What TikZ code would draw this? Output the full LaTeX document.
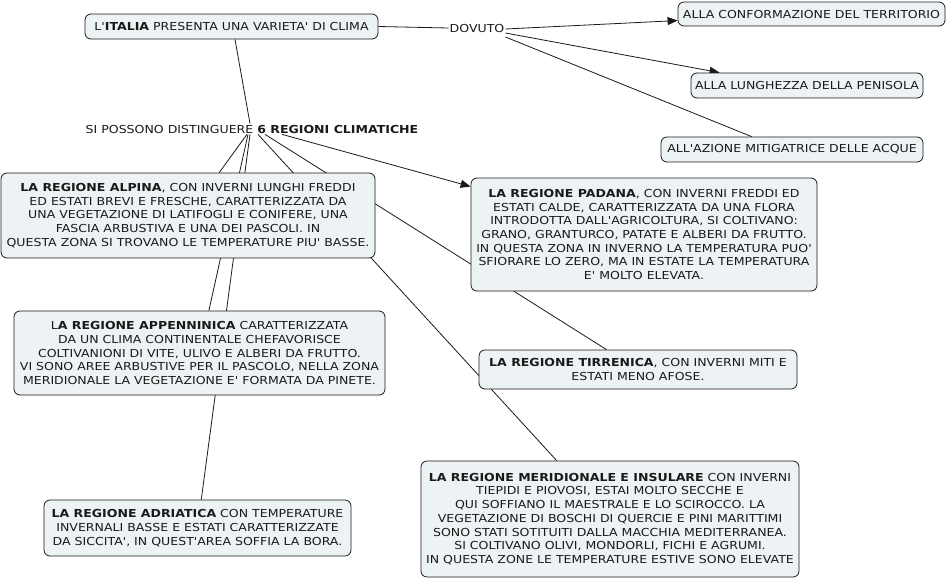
\documentclass[tikz,border=0pt]{standalone}
\usepackage{fontspec}
\setmainfont{DejaVu Sans}[Ligatures=TeXOff, FakeStretch=1.14]
\usetikzlibrary{arrows.meta,calc}
\pgfdeclarelayer{bg}
\pgfsetlayers{bg,main}
\definecolor{boxfill}{HTML}{EDF2F4}
\definecolor{ink}{HTML}{1A1A1A}
\begin{document}
\begin{tikzpicture}[x=1pt,y=-1pt,
  txt/.style={font=\fontsize{11}{13.7}\selectfont, text=ink, align=center},
  box/.style={txt, draw=ink, fill=boxfill, rounded corners=6pt, line width=0.8pt, inner sep=0pt},
  plain/.style={txt, inner sep=1pt},
  conn/.style={draw=ink, line width=0.8pt},
  arr/.style={conn, -{Triangle[length=10pt,width=8pt]}}]
\useasboundingbox (0,0) rectangle (948,579);

\node[box, minimum width=293pt, minimum height=25pt] (ital) at (231.5,26.5) {L'\textbf{ITALIA} PRESENTA UNA VARIETA' DI CLIMA};
\node[plain] (dov) at (477,28) {DOVUTO};
\node[box, minimum width=267pt, minimum height=24pt] (conf) at (811.5,14) {ALLA CONFORMAZIONE DEL TERRITORIO};
\node[box, minimum width=232pt, minimum height=25pt] (lung) at (807,85.5) {ALLA LUNGHEZZA DELLA PENISOLA};
\node[box, minimum width=262pt, minimum height=25pt] (acq) at (792,149.5) {ALL'AZIONE MITIGATRICE DELLE ACQUE};
\node[plain] (si) at (252,129) {SI POSSONO DISTINGUERE \textbf{6 REGIONI CLIMATICHE}};

\node[box, minimum width=374pt, minimum height=85pt] (alp) at (188,215.5) {\textbf{LA REGIONE ALPINA}, CON INVERNI LUNGHI FREDDI\\ED ESTATI BREVI E FRESCHE, CARATTERIZZATA DA\\UNA VEGETAZIONE DI LATIFOGLI E CONIFERE, UNA\\FASCIA ARBUSTIVA E UNA DEI PASCOLI. IN\\QUESTA ZONA SI TROVANO LE TEMPERATURE PIU' BASSE.};
\node[box, minimum width=346pt, minimum height=113pt] (pad) at (644,234.5) {\textbf{LA REGIONE PADANA}, CON INVERNI FREDDI ED\\ESTATI CALDE, CARATTERIZZATA DA UNA FLORA\\INTRODOTTA DALL'AGRICOLTURA, SI COLTIVANO:\\GRANO, GRANTURCO, PATATE E ALBERI DA FRUTTO.\\IN QUESTA ZONA IN INVERNO LA TEMPERATURA PUO'\\SFIORARE LO ZERO, MA IN ESTATE LA TEMPERATURA\\E' MOLTO ELEVATA.};
\node[box, minimum width=371pt, minimum height=84pt] (app) at (199.5,353) {L\textbf{A REGIONE APPENNINICA} CARATTERIZZATA\\DA UN CLIMA CONTINENTALE CHEFAVORISCE\\COLTIVANIONI DI VITE, ULIVO E ALBERI DA FRUTTO.\\VI SONO AREE ARBUSTIVE PER IL PASCOLO, NELLA ZONA\\MERIDIONALE LA VEGETAZIONE E' FORMATA DA PINETE.};
\node[box, minimum width=318pt, minimum height=39pt] (tir) at (638,369.5) {\textbf{LA REGIONE TIRRENICA}, CON INVERNI MITI E\\ESTATI MENO AFOSE.};
\node[box, minimum width=378pt, minimum height=116pt] (mer) at (610,519) {\textbf{LA REGIONE MERIDIONALE E INSULARE} CON INVERNI\\TIEPIDI E PIOVOSI, ESTAI MOLTO SECCHE E\\QUI SOFFIANO IL MAESTRALE E LO SCIROCCO. LA\\VEGETAZIONE DI BOSCHI DI QUERCIE E PINI MARITTIMI\\SONO STATI SOTITUITI DALLA MACCHIA MEDITERRANEA.\\SI COLTIVANO OLIVI, MONDORLI, FICHI E AGRUMI.\\IN QUESTA ZONE LE TEMPERATURE ESTIVE SONO ELEVATE};
\node[box, minimum width=307pt, minimum height=56pt] (adr) at (197.5,528) {\textbf{LA REGIONE ADRIATICA} CON TEMPERATURE\\INVERNALI BASSE E ESTATI CARATTERIZZATE\\DA SICCITA', IN QUEST'AREA SOFFIA LA BORA.};

\begin{pgfonlayer}{bg}
\fill[white] (0,0) rectangle (948,579);
\draw[conn] (ital.east) -- (dov.west);
\draw[arr] ([yshift=-1pt]dov.east) -- (conf);
\draw[arr] ([yshift=-5pt]dov.east) -- ([xshift=29pt]lung.north west);
\draw[conn] ([yshift=-9pt]dov.east) -- ([xshift=91pt]acq.north west);
\draw[conn] ([xshift=3.5pt]ital.south) -- ([xshift=-2pt]si.north);
\draw[conn] ([xshift=-5pt]si.south) -- (alp);
\draw[conn] ([xshift=-4pt]si.south) -- (app);
\draw[conn] ([xshift=-2pt]si.south) -- (adr);
\draw[conn] ([xshift=6pt]si.south) -- (mer);
\draw[conn] ([xshift=13pt]si.south) -- (tir);
\draw[arr] ([xshift=30pt]si.south) -- (pad);
\end{pgfonlayer}
\end{tikzpicture}
\end{document}
